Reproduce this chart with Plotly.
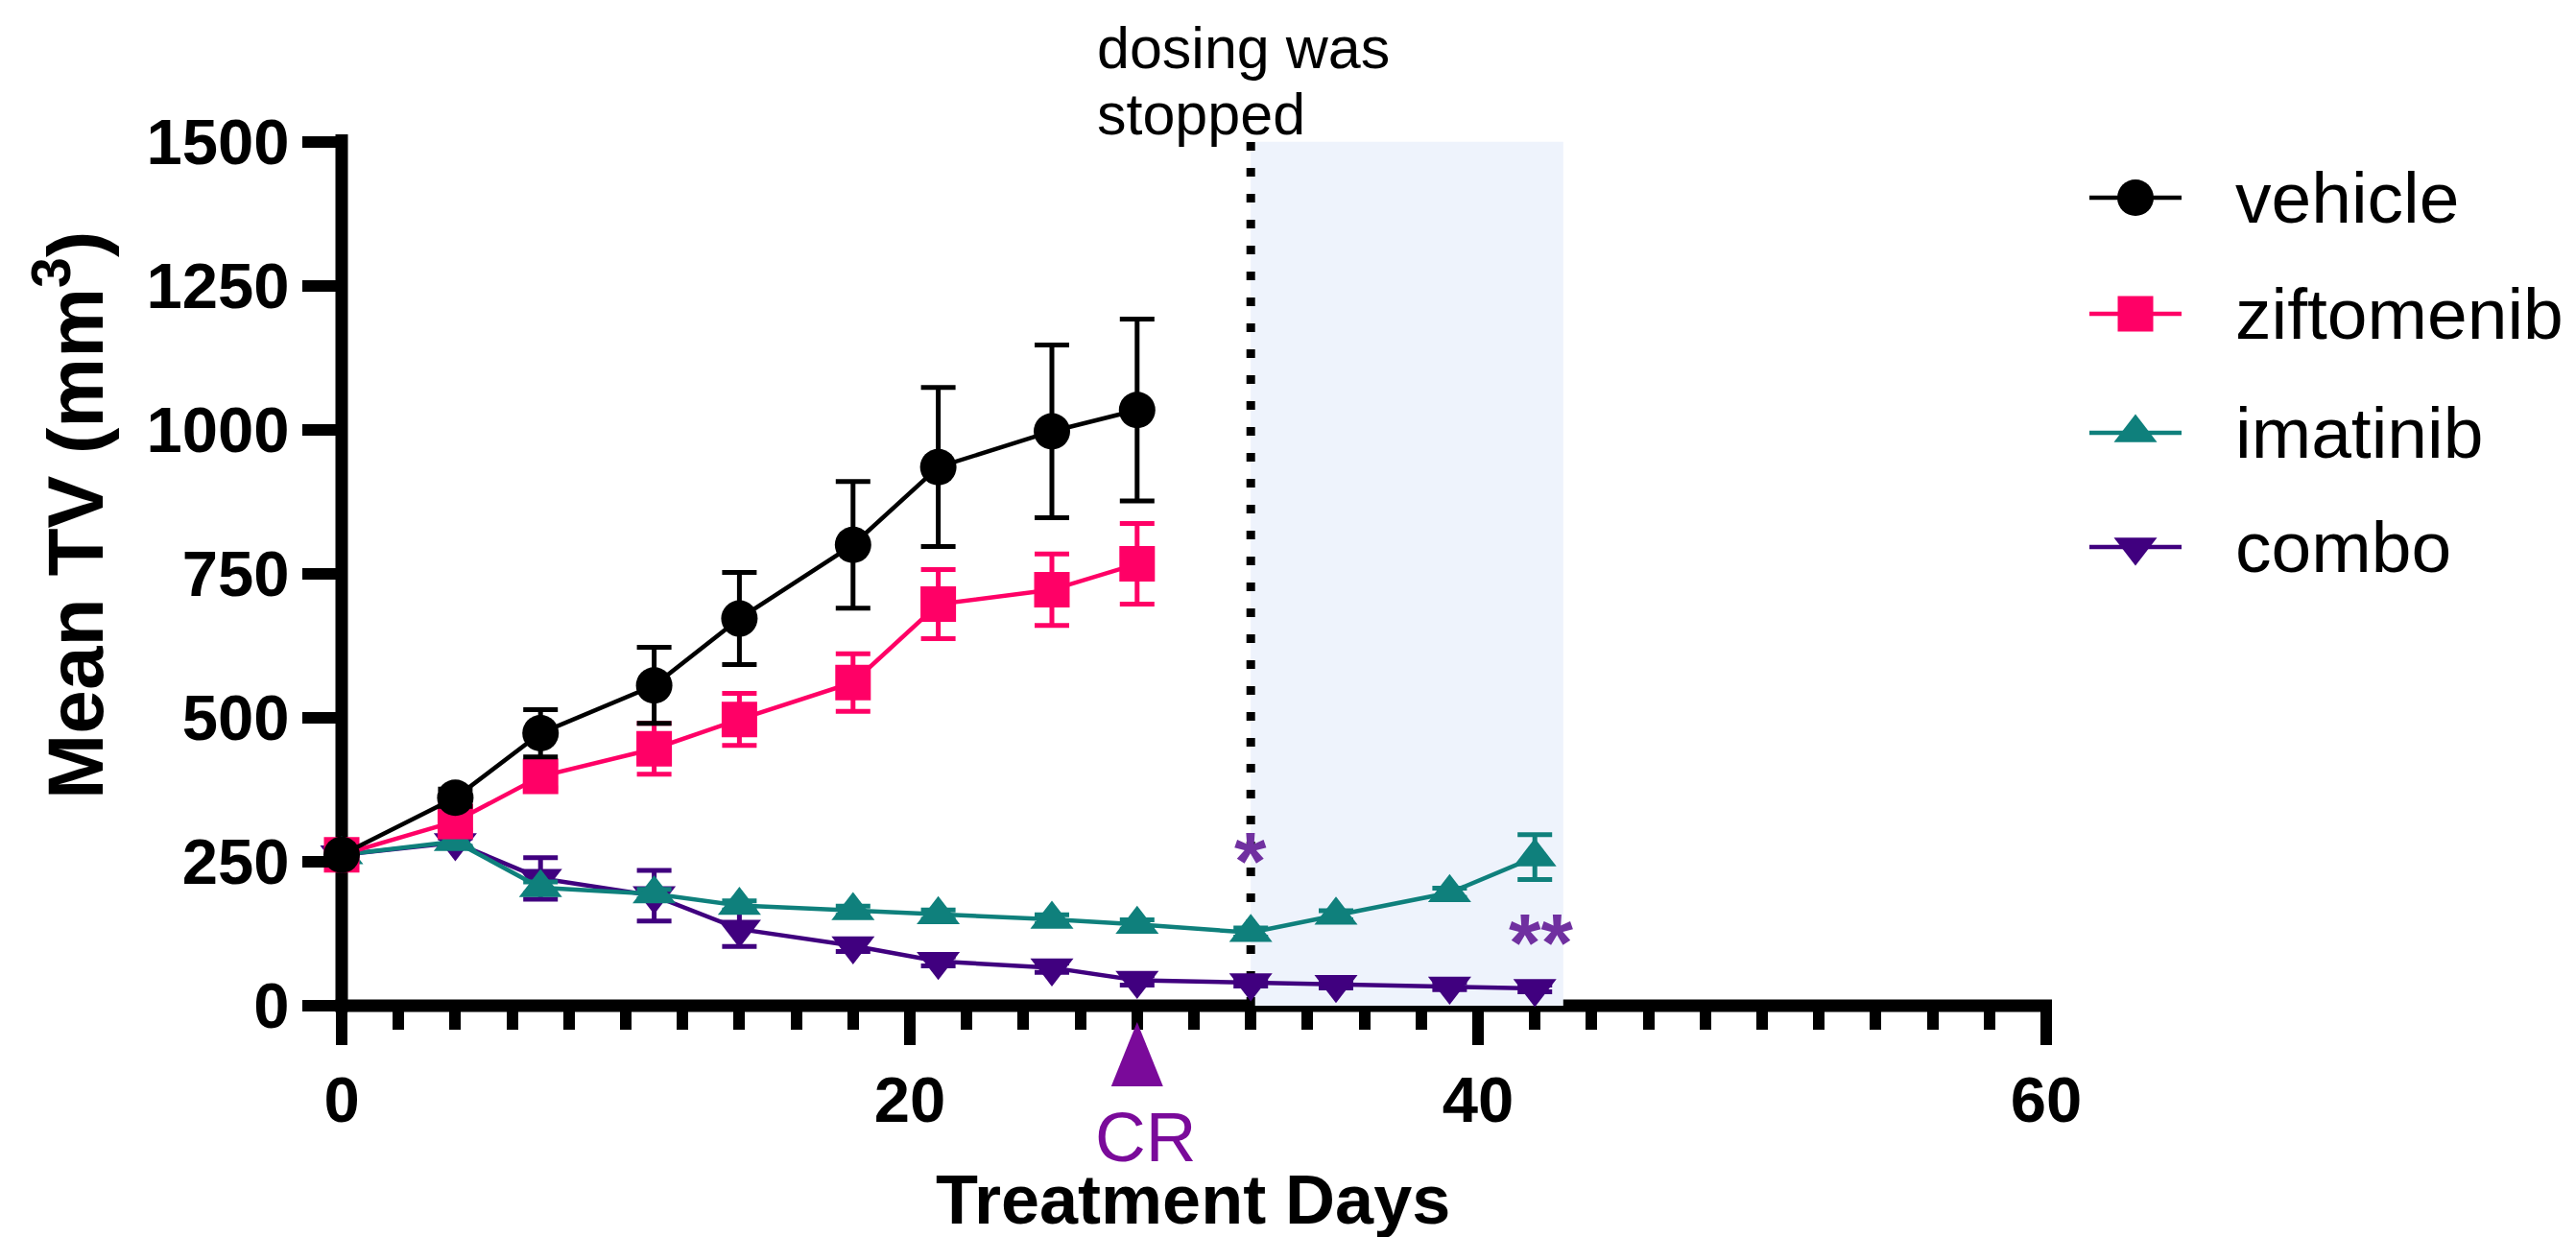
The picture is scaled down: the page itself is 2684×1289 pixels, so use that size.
import plotly.graph_objects as go

W, H = 2684, 1289
FONT = "Liberation Sans, Arial, sans-serif"

# ---------------- data ----------------
days_short = [0, 4, 7, 11, 14, 18, 21, 25, 28]
days_long = [0, 4, 7, 11, 14, 18, 21, 25, 28, 32, 35, 39, 42]

vehicle = [262, 361, 473, 556, 672, 800, 935, 997, 1034]
vehicle_err = [0, 15, 41, 66, 80, 110, 138, 150, 158]

ziftomenib = [262, 320, 398, 446, 497, 561, 697, 722, 767]
ziftomenib_err = [0, 15, 20, 44, 45, 50, 60, 62, 70]

imatinib = [262, 285, 205, 194, 174, 165, 158, 150, 141, 127, 157, 196, 258]
imatinib_err = [0, 8, 10, 8, 8, 8, 8, 8, 8, 8, 8, 8, 39]

combo = [262, 283, 221, 191, 133, 104, 77, 66, 44, 40, 37, 34, 30]
combo_err = [0, 8, 36, 44, 30, 10, 8, 8, 8, 6, 6, 6, 6]

series_names = ["vehicle", "ziftomenib", "imatinib", "combo"]
colors = {"vehicle": "#000000", "ziftomenib": "#FF0066",
          "imatinib": "#0F807C", "combo": "#40007F"}
symbols = {"vehicle": "circle", "ziftomenib": "square",
           "imatinib": "triangle-up", "combo": "triangle-down"}
msize = {"vehicle": 38, "ziftomenib": 37, "imatinib": 39, "combo": 39}

stop_day = 32
shade_end_day = 43
cr_day = 28
x_ticks = [0, 20, 40, 60]
y_ticks = [0, 250, 500, 750, 1000, 1250, 1500]

# ---------------- layout helpers (pixels -> paper) ----------------
def fx(p):
    return p / W

def fy(p):
    return 1 - p / H

X0, X1 = 356, 2132      # plot left / right in px
Y0, Y1 = 1048, 147.5    # value 0 / value 1500 in px
PPU = (Y0 - Y1) / 1500  # px per y unit

def yval(p):
    return (Y0 - p) / PPU

fig = go.Figure()

data = {
    "vehicle": (days_short, vehicle, vehicle_err),
    "ziftomenib": (days_short, ziftomenib, ziftomenib_err),
    "imatinib": (days_long, imatinib, imatinib_err),
    "combo": (days_long, combo, combo_err),
}

for name in ["combo", "imatinib", "ziftomenib", "vehicle"]:
    xs, ys, es = data[name]
    c = colors[name]
    fig.add_trace(go.Scatter(
        x=xs, y=ys, mode="lines+markers", name=name, showlegend=False,
        line=dict(color=c, width=4.5),
        marker=dict(symbol=symbols[name], size=msize[name], color=c, line=dict(width=0)),
        error_y=dict(type="data", array=es, visible=True, color=c, thickness=5, width=18),
        cliponaxis=False, xaxis="x", yaxis="y",
    ))

# ---------------- manual legend (on a pixel-space helper axis) ----------------
legend_rows = [206, 327, 451, 570]
for name, ry in zip(series_names, legend_rows):
    c = colors[name]
    fig.add_trace(go.Scatter(
        x=[2177, 2273], y=[ry, ry], mode="lines",
        line=dict(color=c, width=4.5),
        showlegend=False, hoverinfo="skip", xaxis="x2", yaxis="y2", cliponaxis=False,
    ))
    fig.add_trace(go.Scatter(
        x=[2225], y=[ry], mode="markers",
        marker=dict(symbol=symbols[name], size=msize[name], color=c, line=dict(width=0)),
        showlegend=False, hoverinfo="skip", xaxis="x2", yaxis="y2", cliponaxis=False,
    ))

annotations = []
for name, ry in zip(series_names, legend_rows):
    annotations.append(dict(
        text=name, x=fx(2327), y=fy(ry), xref="paper", yref="paper",
        xanchor="left", yanchor="middle", showarrow=False,
        font=dict(family=FONT, size=75, color="black"),
    ))

# axis titles
annotations.append(dict(
    text="Treatment Days", x=fx(1243), y=fy(1250), xref="paper", yref="paper",
    xanchor="center", yanchor="middle", showarrow=False,
    font=dict(family=FONT, size=72, color="black", weight="bold"),
))
annotations.append(dict(
    text="Mean TV (mm<sup>3</sup>)", x=fx(72), y=fy(537), xref="paper", yref="paper",
    xanchor="center", yanchor="middle", showarrow=False, textangle=-90,
    font=dict(family=FONT, size=82, color="black", weight="bold"),
))

# dosing text
annotations.append(dict(
    text="dosing was", x=fx(1141), y=fy(50), xref="paper", yref="paper",
    xanchor="left", yanchor="middle", showarrow=False,
    font=dict(family=FONT, size=61, color="black"),
))
annotations.append(dict(
    text="stopped", x=fx(1141), y=fy(119), xref="paper", yref="paper",
    xanchor="left", yanchor="middle", showarrow=False,
    font=dict(family=FONT, size=61, color="black"),
))

# significance stars
annotations.append(dict(
    text="*", x=stop_day, y=yval(897), xref="x", yref="y",
    xanchor="center", yanchor="middle", showarrow=False,
    font=dict(family=FONT, size=86, color="#7030A0", weight="bold"),
))
annotations.append(dict(
    text="**", x=42.2, y=yval(982), xref="x", yref="y",
    xanchor="center", yanchor="middle", showarrow=False,
    font=dict(family=FONT, size=86, color="#7030A0", weight="bold"),
))

# CR label
annotations.append(dict(
    text="CR", x=cr_day + 0.3, y=fy(1184), xref="x", yref="paper",
    xanchor="center", yanchor="middle", showarrow=False,
    font=dict(family=FONT, size=73, color="#7A0A9A"),
))

shapes = [
    # shaded post-dosing window
    dict(type="rect", xref="x", yref="y", x0=stop_day, x1=shade_end_day, y0=0, y1=1500,
         fillcolor="#EEF3FC", line=dict(width=0), layer="below"),
    # dotted stop line
    dict(type="line", xref="x", yref="y", x0=stop_day, x1=stop_day, y0=0, y1=1500,
         line=dict(color="black", width=9, dash="9px,18px"), layer="below"),
    # axis lines (centered on zero)
    dict(type="line", xref="paper", yref="paper", x0=fx(349.5), x1=fx(2138), y0=fy(Y0), y1=fy(Y0),
         line=dict(color="black", width=13), layer="below"),
    dict(type="line", xref="paper", yref="paper", x0=fx(X0), x1=fx(X0), y0=fy(1054.5), y1=fy(140),
         line=dict(color="black", width=13), layer="below"),
    # CR arrow
    dict(type="path", xref="x", yref="paper", xsizemode="pixel", ysizemode="pixel",
         xanchor=cr_day, yanchor=fy(Y0), path="M-27,-84 L27,-84 L0,-17 Z",
         fillcolor="#7A0A9A", line=dict(width=0), layer="above"),
]

fig.update_layout(
    template="none",
    width=W, height=H,
    margin=dict(l=0, r=0, t=0, b=0, pad=0),
    paper_bgcolor="white", plot_bgcolor="rgba(0,0,0,0)",
    showlegend=False,
    xaxis=dict(
        domain=[fx(X0), fx(X1)], range=[0, 60], tickvals=x_ticks,
        ticktext=[str(v) for v in x_ticks], automargin=False,
        ticks="outside", ticklen=40, tickwidth=12, tickcolor="black",
        showline=False, showgrid=False, zeroline=False,
        tickfont=dict(family=FONT, size=67, color="black", weight="bold"),
        minor=dict(dtick=2, tick0=0, ticks="outside", ticklen=24, tickwidth=12,
                   tickcolor="black", showgrid=False),
        anchor="y", fixedrange=True,
    ),
    yaxis=dict(
        domain=[fy(Y0), fy(Y1)], range=[0, 1500], tickvals=y_ticks,
        ticktext=[str(v) for v in y_ticks], automargin=False,
        ticks="outside", ticklen=40, tickwidth=12, tickcolor="black",
        showline=False, showgrid=False, zeroline=False,
        tickfont=dict(family=FONT, size=67, color="black", weight="bold"),
        anchor="x", fixedrange=True,
    ),
    xaxis2=dict(domain=[fx(2140), 1], range=[2140, W], visible=False, anchor="y2",
                fixedrange=True, automargin=False),
    yaxis2=dict(domain=[0, 1], range=[H, 0], visible=False, anchor="x2",
                fixedrange=True, automargin=False),
    shapes=shapes,
    annotations=annotations,
)

fig.write_html("out.html")
